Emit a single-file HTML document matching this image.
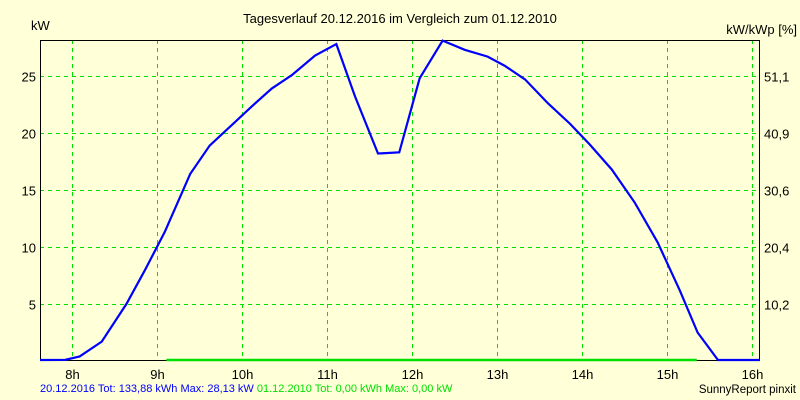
<!DOCTYPE html>
<html><head><meta charset="utf-8"><style>
body{margin:0;background:#ffffd8}
svg{display:block;font-family:"Liberation Sans",sans-serif}
</style></head><body>
<svg id="c" width="800" height="400">
<rect width="800" height="400" fill="#ffffd8"/>
<text x="400" y="23" font-size="13" text-anchor="middle" fill="#000">Tagesverlauf 20.12.2016 im Vergleich zum 01.12.2010</text>
<text x="31" y="30" font-size="13">kW</text>
<text x="797" y="34" font-size="13" text-anchor="end">kW/kWp [%]</text>
<g id="grid"></g><g id="ax"></g><g id="series"></g>
<text x="40" y="392" font-size="11"><tspan fill="#0000ff">20.12.2016 Tot: 133,88 kWh Max: 28,13 kW</tspan><tspan fill="#00e000"> 01.12.2010 Tot: 0,00 kWh Max: 0,00 kW</tspan></text>
<text x="796" y="393" font-size="11.5" text-anchor="end">SunnyReport pinxit</text>
</svg>
<script>
const hours=[8,9,10,11,12,13,14,15,16];
const leftTicks=[5,10,15,20,25];
const rightTicks=["10,2","20,4","30,6","40,9","51,1"];
const times2016=[7.62,7.92,8.09,8.35,8.64,8.86,9.09,9.39,9.62,9.88,10.11,10.35,10.59,10.86,11.11,11.33,11.60,11.85,12.09,12.36,12.62,12.89,13.09,13.33,13.60,13.86,14.09,14.35,14.62,14.89,15.15,15.36,15.60,16.09];
const kw2016=[0,0.1,0.4,1.7,5.0,8.0,11.3,16.4,18.9,20.7,22.3,23.9,25.1,26.8,27.8,23.2,18.2,18.3,24.8,28.1,27.3,26.7,25.9,24.7,22.6,20.8,19.0,16.8,13.9,10.4,6.2,2.5,0,0];
const times2010=[9.11,15.35];
const kw2010=[0,0];
const L=40,R=760,T=40,B=360;
const X=t=>72+(t-8)*85;
const Y=v=>361-v*11.4;
const NS="http://www.w3.org/2000/svg";
function mk(tag,attrs,parent){const e=document.createElementNS(NS,tag);for(const k in attrs)e.setAttribute(k,attrs[k]);document.getElementById(parent).appendChild(e);return e;}
hours.forEach(h=>{
 const x=Math.round(X(h))+0.5;
 if(x<R){const l=mk('line',{x1:x,x2:x,y1:T,y2:B,stroke:'#00e000','stroke-dasharray':'4,4'},'grid');
 
 }
 const t=mk('text',{x:x,y:379,'font-size':13,'text-anchor':'middle'},'ax');t.textContent=h+'h';
 
 
});
leftTicks.forEach((v,i)=>{
 const y=Math.round(Y(v))+0.5;
 const l=mk('line',{x1:L,x2:R,y1:y,y2:y,stroke:'#00e000','stroke-dasharray':'4,4'},'grid');
 
 
 const t=mk('text',{x:36,y:y+5,'font-size':13,'text-anchor':'end'},'ax');t.textContent=v;
 
 
 const r=mk('text',{x:764,y:y+5,'font-size':13},'ax');r.textContent=rightTicks[i];
 
 
});
const f=mk('rect',{x:L+0.5,y:T+0.5,width:R-L-1,height:B-T,fill:'none',stroke:'#000'},'ax');


const g=mk('polyline',{points:times2010.map((t,i)=>X(t)+','+Math.min(Y(kw2010[i]),B)).join(' '),fill:'none',stroke:'#00e000','stroke-width':2.5},'series');


const b=mk('polyline',{points:times2016.map((t,i)=>Math.max(L,Math.min(R,X(t)))+','+Math.min(Y(kw2016[i]),B)).join(' '),fill:'none',stroke:'#0000ff','stroke-width':2.2},'series');


</script>
</body></html>
